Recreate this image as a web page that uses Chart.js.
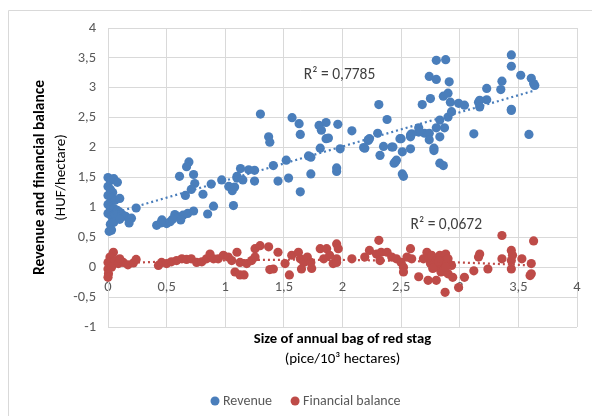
<!DOCTYPE html>
<html>
<head>
<meta charset="utf-8">
<script src="https://cdn.jsdelivr.net/npm/chart.js@4.4.1/dist/chart.umd.min.js"></script>
<style>
  html, body { margin: 0; padding: 0; background: #fff; }
  #wrap { width: 592px; height: 416px; }
</style>
</head>
<body>
<div id="wrap"><canvas id="myChart" width="592" height="416"></canvas></div>
<script>
// size of annual bag (pice/10^3 ha) and revenue (HUF/ha)
const revenueX = [
  0, 0.02, 0.05, 0.08, 0, 0.02, 0.04, 0, 0.03, 0.06, 0.1, 0, 0.02, 0.05, 0.08, 0.1, 0, 0.03, 0.06, 0.12,
  0.15, 0.18, 0.2, 0.02, 0.05, 0.03, 0.01, 0.1, 0.24, 0.18,
  0.415, 0.46, 0.5, 0.53, 0.57, 0.61, 0.64, 0.62, 0.68, 0.73, 0.85, 0.9, 0.55, 0.45,
  0.61, 0.69, 0.67, 0.73, 0.74, 0.71, 0.66, 0.81, 0.88, 0.97, 1.03, 1.07, 1.06, 1.1,
  1.3, 1.57, 1.63, 1.64, 1.37, 1.38, 1.8, 1.86, 1.82, 1.96, 2.08, 1.86, 1.88, 1.81, 1.98, 1.71, 1.73,
  1.52, 1.41, 1.13, 1.2, 1.25, 1.1, 1.15, 1.25, 1.08, 1.45, 1.54, 1.73, 1.95, 1.95, 1.64, 2.19, 2.22,
  2.8, 2.88, 2.74, 2.8, 2.91, 2.31, 2.68, 2.75, 2.86, 2.9, 2.92, 2.99, 3.04, 3.16, 2.38, 2.83, 2.9,
  2.93, 2.87, 2.8, 2.65, 2.3, 2.22, 2.18, 3.12, 2.7, 2.74, 2.74, 2.83, 2.5, 2.58, 2.58, 2.35, 2.42,
  2.51, 2.58, 2.32, 2.78, 2.78, 2.46, 2.44, 2.83, 2.86, 2.51, 2.52, 2.65, 2.23, 2.43, 2.45, 2.49, 2.59,
  3.44, 3.44, 3.52, 3.61, 3.63, 3.64, 3.36, 3.35, 3.23, 3.23, 3.17, 3.17, 3.44, 3.44, 3.59
];
const revenueY = [
  1.5, 1.45, 1.48, 1.42, 1.35, 1.3, 1.25, 1.2, 1.15, 1.12, 1.15, 1.05, 1.0, 0.98, 0.95, 0.92, 0.9, 0.85, 0.88, 0.88,
  0.85, 0.8, 0.82, 0.72, 0.75, 0.62, 0.6, 0.8, 0.99, 0.74,
  0.7, 0.79, 0.73, 0.76, 0.88, 0.84, 0.87, 0.79, 0.9, 0.94, 0.89, 1.02, 0.8, 0.74,
  1.52, 1.76, 1.68, 1.55, 1.4, 1.3, 1.2, 1.22, 1.39, 1.46, 1.35, 1.03, 1.28, 1.49,
  2.56, 2.5, 2.4, 2.22, 2.18, 2.09, 2.37, 2.42, 2.29, 2.39, 2.28, 2.15, 2.16, 1.99, 1.98, 1.86, 1.84,
  1.79, 1.7, 1.65, 1.63, 1.62, 1.52, 1.46, 1.44, 1.34, 1.44, 1.49, 1.56, 1.66, 1.6, 1.26, 1.99, 2.12,
  3.46, 3.47, 3.19, 3.14, 3.1, 2.72, 2.72, 2.82, 2.86, 2.91, 2.76, 2.74, 2.71, 2.76, 2.47, 2.46, 2.51,
  2.6, 2.33, 2.33, 2.33, 2.24, 2.13, 2.0, 2.23, 2.24, 2.24, 2.13, 2.18, 2.15, 2.18, 2.21, 2.02, 2.01,
  1.93, 1.98, 1.87, 1.95, 1.99, 1.79, 1.74, 1.74, 1.7, 1.56, 1.52, 2.26, 2.15, 2.01, 1.76, 2.15, 2.23,
  3.55, 3.36, 3.21, 3.16, 3.07, 3.04, 3.11, 2.97, 2.99, 2.8, 2.79, 2.68, 2.64, 2.62, 2.22
];

// financial balance (HUF/ha)
const balanceX = [
  0.046, 0.017, 0, 0, 0.004, 0, 0.06, 0.088, 0.13, 0.17, 0.216, 0.24, 0.03, 0.1,
  0.457, 0.43, 0.5, 0.54, 0.585, 0.63, 0.67, 0.71, 0.756, 0.8, 0.84, 0.87, 0.9, 0.94, 0.984, 1.026,
  1.055, 1.1, 1.126, 1.083, 1.126, 1.16, 1.183, 1.225, 1.254, 1.297, 1.254, 1.37, 1.41, 1.38, 1.45,
  1.51, 1.547, 1.567, 1.624, 1.64, 1.67, 1.7, 1.73, 1.65, 1.737, 1.81, 1.865, 1.84, 1.89, 1.92, 1.95, 1.95,
  1.964, 1.95, 2.08, 2.19, 2.23, 2.31, 2.29, 2.33, 2.32, 2.38, 2.42, 2.46, 2.5, 2.52, 2.52, 2.55, 2.58,
  2.59, 2.65, 2.69, 2.72, 2.73, 2.74, 2.75, 2.8, 2.76, 2.8, 2.81, 2.83, 2.84, 2.85, 2.87, 2.875, 2.88,
  2.9, 2.9, 2.93, 2.94, 2.99, 3.04, 3.12, 3.17, 3.16, 3.24, 3.36, 3.36, 3.44, 3.44, 3.44, 3.45, 3.53,
  3.6, 3.61, 3.61, 3.63, 2.78, 2.82, 2.86, 2.77, 2.88
];
const balanceY = [
  0.25, 0.17, 0.08, -0.03, -0.11, -0.17, 0.11, 0.06, 0.08, 0.04, 0.07, 0.13, 0, 0.14,
  0.08, 0.03, 0.06, 0.09, 0.11, 0.14, 0.13, 0.14, 0.08, 0.09, 0.14, 0.22, 0.14, 0.14, 0.2, 0.17,
  0.11, 0.25, 0.08, -0.08, -0.13, -0.13, 0.06, 0.11, 0.31, 0.36, 0.17, 0.34, -0.03, -0.04, 0.25,
  0.06, -0.13, 0.2, 0.25, 0.14, 0.08, 0.17, 0.08, -0.03, -0.02, 0.31, 0.31, 0.14, 0.2, 0.06, 0.14, 0.39,
  0.31, 0.08, 0.14, 0.17, 0.28, 0.45, 0.22, 0.25, 0.11, 0.25, 0.17, 0.14, 0.08, 0, -0.08, 0.17, 0.31,
  0.14, -0.16, 0.14, 0.25, -0.22, 0.14, 0.06, -0.22, 0.2, 0.11, 0, 0.2, -0.08, 0.08, -0.03, -0.42, 0.22,
  0.14, -0.11, 0.03, -0.17, -0.34, -0.17, -0.06, 0.22, 0.17, -0.03, 0.53, 0.14, 0.28, 0.11, -0.03, 0.2, 0.14,
  -0.14, -0.11, 0.06, 0.44, 0.05, 0.1, -0.05, -0.02, 0
];

const seriesNames = ['Revenue', 'Financial balance'];
const seriesColors = ['#4a7ebb', '#be4b48'];
const r2Labels = ['R² = 0,7785', 'R² = 0,0672'];
const yTitle = ['Revenue and financial balance', '(HUF/hectare)'];
const xTitle = ['Size of annual bag of red stag', '(pice/10³ hectares)'];

const FONT = 'Carlito, Calibri, Lato, sans-serif';
const GREY = '#595959';

// least squares polynomial trendline (linear for revenue, 2nd order for balance)
function fitPoly(xs, ys, order) {
    const n = order + 1;
    const A = [];
    for (let i = 0; i < n; i++) {
        A.push(new Array(n + 1).fill(0));
    }
    xs.forEach((x, k) => {
        for (let i = 0; i < n; i++) {
            for (let j = 0; j < n; j++) A[i][j] += Math.pow(x, i + j);
            A[i][n] += ys[k] * Math.pow(x, i);
        }
    });
    for (let i = 0; i < n; i++) {
        for (let r = i + 1; r < n; r++) {
            const f = A[r][i] / A[i][i];
            for (let c = i; c <= n; c++) A[r][c] -= f * A[i][c];
        }
    }
    const coef = new Array(n).fill(0);
    for (let i = n - 1; i >= 0; i--) {
        let s = A[i][n];
        for (let j = i + 1; j < n; j++) s -= A[i][j] * coef[j];
        coef[i] = s / A[i][i];
    }
    return coef;
}

function trendPoints(xs, ys, order) {
    const coef = fitPoly(xs, ys, order);
    const lo = Math.min(...xs), hi = Math.max(...xs);
    const pts = [];
    for (let i = 0; i <= 60; i++) {
        const x = lo + (hi - lo) * i / 60;
        pts.push({ x: x, y: coef.reduce((s, c, p) => s + c * Math.pow(x, p), 0) });
    }
    return pts;
}

const toXY = (xs, ys) => xs.map((x, i) => ({ x: x, y: ys[i] }));
const comma = v => String(v).replace('.', ',');

const decor = {
    id: 'decor',
    beforeDraw(chart) {
        const c = chart.ctx;
        c.save();
        c.strokeStyle = '#d9d9d9';
        c.lineWidth = 1;
        c.beginPath();
        c.moveTo(8.5, 416);
        c.lineTo(8.5, 10.5);
        c.lineTo(592, 10.5);
        c.stroke();
        c.restore();
    },
    afterDraw(chart) {
        const c = chart.ctx;
        const a = chart.chartArea;
        const sx = chart.scales.x, sy = chart.scales.y;
        c.save();
        c.fillStyle = '#000';
        c.textAlign = 'center';
        c.textBaseline = 'middle';

        // y axis title
        const cy = (a.top + a.bottom) / 2;
        c.save();
        c.translate(40, cy);
        c.rotate(-Math.PI / 2);
        c.font = 'bold 15.5px ' + FONT;
        c.fillText(yTitle[0], 0, 0);
        c.restore();
        c.save();
        c.translate(61, cy);
        c.rotate(-Math.PI / 2);
        c.font = '15px ' + FONT;
        c.fillText(yTitle[1], 0, 0);
        c.restore();

        // x axis title
        const cx = (a.left + a.right) / 2;
        c.font = 'bold 14.7px ' + FONT;
        c.fillText(xTitle[0], cx, a.bottom + 12);
        c.font = '15px ' + FONT;
        c.fillText(xTitle[1], cx, a.bottom + 32);

        // R² labels
        c.font = '15.5px ' + FONT;
        c.fillStyle = '#404040';
        c.textAlign = 'left';
        c.fillText(r2Labels[0], sx.getPixelForValue(1.67), sy.getPixelForValue(3.21));
        c.fillText(r2Labels[1], sx.getPixelForValue(2.58), sy.getPixelForValue(0.71));

        // legend
        c.font = '14px ' + FONT;
        let lx = 210;
        const ly = 401;
        seriesNames.forEach((name, i) => {
            c.fillStyle = seriesColors[i];
            c.beginPath();
            c.arc(lx + 5, ly, 4.5, 0, Math.PI * 2);
            c.fill();
            c.fillStyle = GREY;
            c.fillText(name, lx + 13, ly);
            lx += 13 + c.measureText(name).width + 18;
        });
        c.restore();
    }
};

const ctx = document.getElementById('myChart').getContext('2d');
new Chart(ctx, {
    type: 'scatter',
    data: {
        datasets: [
            {
                label: seriesNames[0] + ' trend',
                data: trendPoints(revenueX, revenueY, 1),
                showLine: true,
                borderColor: seriesColors[0],
                borderWidth: 2.2,
                borderDash: [2, 3],
                pointRadius: 0,
                order: 0
            },
            {
                label: seriesNames[1] + ' trend',
                data: trendPoints(balanceX, balanceY, 2),
                showLine: true,
                borderColor: seriesColors[1],
                borderWidth: 2.2,
                borderDash: [2, 3],
                pointRadius: 0,
                order: 0
            },
            {
                label: seriesNames[0],
                data: toXY(revenueX, revenueY),
                backgroundColor: seriesColors[0],
                borderWidth: 0,
                pointRadius: 4.6,
                clip: false,
                order: 2
            },
            {
                label: seriesNames[1],
                data: toXY(balanceX, balanceY),
                backgroundColor: seriesColors[1],
                borderWidth: 0,
                pointRadius: 4.6,
                clip: false,
                order: 1
            }
        ]
    },
    options: {
        responsive: false,
        animation: false,
        events: [],
        layout: { padding: { left: 68, right: 15, top: 28, bottom: 89 } },
        plugins: {
            legend: { display: false },
            tooltip: { enabled: false }
        },
        scales: {
            x: {
                type: 'linear',
                position: { y: 0 },
                min: 0,
                max: 4,
                grid: { color: '#d9d9d9', drawTicks: false },
                border: { color: '#d9d9d9' },
                ticks: {
                    stepSize: 0.5,
                    padding: 11,
                    color: GREY,
                    font: { family: FONT, size: 14.5 },
                    callback: comma,
                    maxRotation: 0
                },
                afterFit: s => { s.height = 0; }
            },
            y: {
                min: -1,
                max: 4,
                grid: { color: '#d9d9d9', drawTicks: false },
                border: { color: '#d9d9d9' },
                ticks: {
                    stepSize: 0.5,
                    padding: 12,
                    color: GREY,
                    font: { family: FONT, size: 14.5 },
                    callback: comma
                },
                afterFit: s => { s.width = 40; }
            }
        }
    },
    plugins: [decor]
});
</script>
</body>
</html>
